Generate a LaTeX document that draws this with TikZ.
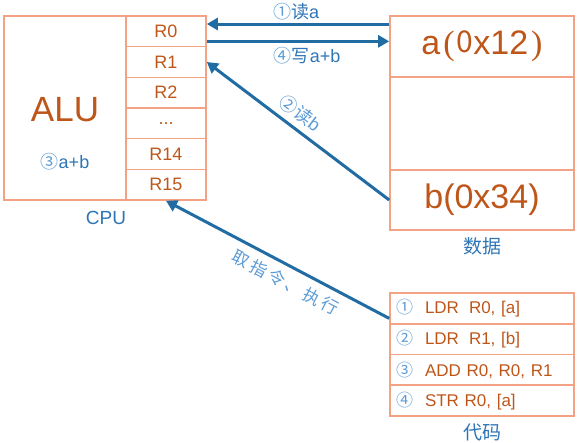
\documentclass[tikz,border=0pt]{standalone}
\usepackage{fontspec}
\setmainfont{Liberation Sans}
\newfontfamily\cjk{Noto Sans CJK SC}
\usetikzlibrary{arrows.meta}
\definecolor{boxc}{HTML}{F3A283}
\definecolor{txtc}{HTML}{BE561A}
\definecolor{arrc}{HTML}{226CA4}
\definecolor{bluec}{HTML}{2E75B6}
\definecolor{numc}{HTML}{5B9BD5}
\newcommand{\fs}[1]{\fontsize{#1}{#1}\selectfont}
\newcommand{\cn}[1]{{\cjk\color{numc}#1}}
\tikzset{
  cell/.style={draw=boxc, line width=1.6pt, inner sep=0pt, text=txtc},
  reg/.style={cell, minimum width=80pt, minimum height=30.67pt, font=\fs{18}},
  mem/.style={cell, minimum width=184pt, font=\fs{34}},
  codec/.style={cell, minimum height=30.75pt, text width=172pt, inner xsep=6pt, align=left, font=\fs{17}},
  arr/.style={draw=arrc, line width=3pt, -{Triangle[length=11pt,width=12pt]}},
  lbl/.style={text=bluec, font=\fs{18}, inner sep=2pt},
  captext/.style={text=bluec, font=\fs{19}}
}
\begin{document}
\begin{tikzpicture}[x=1pt,y=-1pt]
\useasboundingbox (0,0) rectangle (578,443);
% CPU
\node[cell, minimum width=122pt, minimum height=184pt] (alu) at (65,108) {};
\node[text=txtc, font=\fs{35}, inner sep=0pt] (alut) at (65,110) {ALU};
\node[lbl] (sum) at (65,162) {\cn{③}a+b};
\node[reg] (r0) at (166,31.33) {R0};
\node[reg] (r1) at (166,62) {R1};
\node[reg] (r2) at (166,92.67) {R2};
\node[reg] (rd) at (166,123.33) {...};
\node[reg] (r14) at (166,154) {R14};
\node[reg] (r15) at (166,184.67) {R15};
\node[captext] (cpu) at (106,218) {CPU};
% memory
\node[mem, minimum height=61pt] (mema) at (482,46.5) {a\hspace{3pt}{\fontspec{Liberation Serif}(}\hspace{2pt}\raisebox{2pt}{\fs{30}\cjk 0}x12\hspace{3pt}{\fontspec{Liberation Serif})}};
\node[mem, minimum height=93pt] (memm) at (482,123.5) {};
\node[mem, minimum height=60pt] (memb) at (482,200) {b(0x34)};
\node[captext] (data) at (482,246) {\cjk 数据};
% code
\node[codec] (c1) at (482,308.4) {\cn{①}\hspace{12pt}LDR\hspace{10pt}R0, [a]};
\node[codec] (c2) at (482,339.1) {\cn{②}\hspace{12pt}LDR\hspace{10pt}R1, [b]};
\node[codec] (c3) at (482,369.9) {\cn{③}\hspace{12pt}ADD R0, R0, R1};
\node[codec] (c4) at (482,400.6) {\cn{④}\hspace{12pt}STR R0, [a]};
\node[captext] (code) at (482,432) {\cjk 代码};
% arrows
\coordinate (p1) at ([yshift=7.3pt]r0.east);
\coordinate (p4) at ([yshift=-10pt]r0.east);
\draw[arr] (p1 -| mema.west) -- node[lbl, above, pos=0.51] {\cn{①}{\cjk 读}a} (p1);
\draw[arr] (p4) -- node[lbl, below=2pt, pos=0.55] {\cn{④}{\cjk 写}a+b} (p4 -| mema.west);
\draw[arr] (memb.west) -- node[lbl, text=numc, sloped, above=4pt, pos=0.54] {\cn{②}{\cjk 读}b} (r1.east);
\draw[arr] ([yshift=-10pt]c1.west) -- node[lbl, text=numc, sloped, below=5pt, pos=0.43, font=\fs{17}] {\cjk 取\hspace{3pt}指\hspace{3pt}令\hspace{3pt}、\hspace{3pt}执\hspace{3pt}行} (r15.south);
\end{tikzpicture}
\end{document}
